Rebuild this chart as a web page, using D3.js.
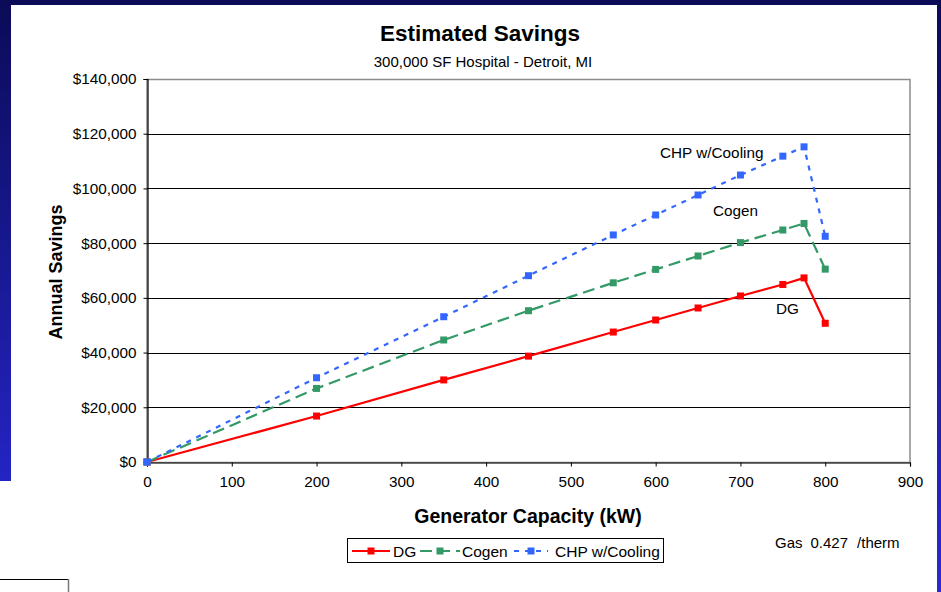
<!DOCTYPE html>
<html>
<head>
<meta charset="utf-8">
<script src="https://cdn.jsdelivr.net/npm/d3@7"></script>
<style>
  html, body { margin: 0; padding: 0; background: #fff; }
  svg { display: block; font-family: "Liberation Sans", Arial, sans-serif; }
</style>
</head>
<body>
<svg id="chart" width="941" height="592"></svg>
<script>
// Generator capacity (kW) for each estimate
const capacities = [0, 200, 350, 450, 550, 600, 650, 700, 750, 775, 800];
// Annual savings ($) per configuration
const dgSavings    = [0, 16800, 30000, 38700, 47500, 51900, 56300, 60700, 64900, 67300, 50700];
const cogenSavings = [0, 26900, 44600, 55300, 65500, 70400, 75300, 80200, 84800, 87200, 70500];
const chpSavings   = [0, 30800, 53100, 68100, 83000, 90300, 97600, 104900, 111800, 115200, 82500];
const seriesNames  = ["DG", "Cogen", "CHP w/Cooling"];
const yTickValues  = [0, 20000, 40000, 60000, 80000, 100000, 120000, 140000];
const xTickValues  = [0, 100, 200, 300, 400, 500, 600, 700, 800, 900];

const svg = d3.select("#chart");
const W = 941, H = 592;

// Slide background framing the chart
const defs = svg.append("defs");
const grad = defs.append("linearGradient").attr("id", "sideGrad")
  .attr("x1", 0).attr("y1", 0).attr("x2", 0).attr("y2", 1);
grad.append("stop").attr("offset", "0%").attr("stop-color", "#0b0b58");
grad.append("stop").attr("offset", "100%").attr("stop-color", "#2424c4");
const gradR = defs.append("linearGradient").attr("id", "sideGradR")
  .attr("x1", 0).attr("y1", 0).attr("x2", 0).attr("y2", 1);
gradR.append("stop").attr("offset", "0%").attr("stop-color", "#0b0b58");
gradR.append("stop").attr("offset", "100%").attr("stop-color", "#2a2ad0");

svg.append("rect").attr("x", 0).attr("y", 0).attr("width", W).attr("height", 5).attr("fill", "#0b0b58");
svg.append("rect").attr("x", 0).attr("y", 0).attr("width", 11).attr("height", 481).attr("fill", "url(#sideGrad)");
svg.append("rect").attr("x", 937).attr("y", 0).attr("width", 4).attr("height", H).attr("fill", "url(#sideGradR)");
// small table cell edge at the lower left
svg.append("line").attr("x1", 0).attr("x2", 68).attr("y1", 579.5).attr("y2", 579.5).attr("stroke", "#000").attr("stroke-width", 1);
svg.append("line").attr("x1", 68.5).attr("x2", 68.5).attr("y1", 579).attr("y2", 592).attr("stroke", "#777").attr("stroke-width", 1.5);

// Scales
const x = d3.scaleLinear().domain([0, 900]).range([147, 910]);
const y = d3.scaleLinear().domain([0, 140000]).range([462, 79]);

// Plot area border (top/right)
svg.append("rect").attr("x", 147).attr("y", 79.5).attr("width", 763).attr("height", 383)
  .attr("fill", "none").attr("stroke", "#8c8c8c").attr("stroke-width", 1.5);

// Gridlines
svg.append("g").selectAll("line").data(yTickValues.filter(v => v > 0 && v < 140000)).join("line")
  .attr("x1", 147).attr("x2", 910)
  .attr("y1", d => Math.round(y(d)) + 0.5).attr("y2", d => Math.round(y(d)) + 0.5)
  .attr("stroke", "#000").attr("stroke-width", 1);

// Axes
const fmt = d => "$" + d3.format(",")(d);
const yAxis = svg.append("g").attr("transform", "translate(147.5,0)")
  .call(d3.axisLeft(y).tickValues(yTickValues).tickFormat(fmt).tickSize(4).tickPadding(7));
const xAxis = svg.append("g").attr("transform", "translate(0,462.5)")
  .call(d3.axisBottom(x).tickValues(xTickValues).tickFormat(d3.format("d")).tickSize(4).tickPadding(10));
[yAxis, xAxis].forEach(g => {
  g.select(".domain").attr("stroke", "#000").attr("stroke-width", 1.2);
  g.selectAll(".tick line").attr("stroke", "#000");
  g.selectAll("text").attr("font-size", 15.3).attr("fill", "#000")
    .attr("font-family", "Liberation Sans, Arial, sans-serif");
});

// Series definitions
const series = [
  { name: seriesNames[0], values: dgSavings,    color: "#ff0000", dash: null },
  { name: seriesNames[1], values: cogenSavings, color: "#339966", dash: "12,6" },
  { name: seriesNames[2], values: chpSavings,   color: "#3366ff", dash: "5,6" }
];

const line = d3.line().x(d => x(d[0])).y(d => y(d[1]));

series.forEach(s => {
  const pts = capacities.map((c, i) => [c, s.values[i]]);
  svg.append("path").datum(pts)
    .attr("d", line).attr("fill", "none")
    .attr("stroke", s.color).attr("stroke-width", 2.2)
    .attr("stroke-dasharray", s.dash);
  svg.append("g").selectAll("rect").data(pts).join("rect")
    .attr("x", d => x(d[0]) - 3.5).attr("y", d => y(d[1]) - 3.5)
    .attr("width", 7).attr("height", 7).attr("fill", s.color);
});

// Series annotations inside the plot
svg.append("text").attr("x", 660).attr("y", 158).attr("font-size", 15.3).text("CHP w/Cooling");
svg.append("text").attr("x", 713).attr("y", 216).attr("font-size", 15.3).text("Cogen");
svg.append("text").attr("x", 776).attr("y", 314).attr("font-size", 15.3).text("DG");

// Titles
svg.append("text").attr("x", 480).attr("y", 41).attr("text-anchor", "middle")
  .attr("font-size", 22.5).attr("font-weight", "bold").text("Estimated Savings");
svg.append("text").attr("x", 483).attr("y", 67).attr("text-anchor", "middle")
  .attr("font-size", 15).text("300,000 SF Hospital - Detroit, MI");
svg.append("text").attr("x", 528).attr("y", 523).attr("text-anchor", "middle")
  .attr("font-size", 19.5).attr("font-weight", "bold").text("Generator Capacity (kW)");
svg.append("text").attr("transform", "translate(62,272) rotate(-90)").attr("text-anchor", "middle")
  .attr("font-size", 18).attr("font-weight", "bold").text("Annual Savings");

// Gas price note
const gas = svg.append("text").attr("x", 775).attr("y", 548).attr("font-size", 15);
gas.append("tspan").text("Gas");
gas.append("tspan").attr("dx", 8).text("0.427");
gas.append("tspan").attr("dx", 9).text("/therm");

// Legend
svg.append("rect").attr("x", 347.5).attr("y", 538.5).attr("width", 316).attr("height", 24)
  .attr("fill", "#fff").attr("stroke", "#000").attr("stroke-width", 1);
const legendItems = [
  { s: series[0], x1: 352, x2: 390, tx: 393 },
  { s: series[1], x1: 420, x2: 460, tx: 462 },
  { s: series[2], x1: 514, x2: 548, tx: 555 }
];
legendItems.forEach(it => {
  const ly = 551;
  svg.append("line").attr("x1", it.x1).attr("x2", it.x2).attr("y1", ly).attr("y2", ly)
    .attr("stroke", it.s.color).attr("stroke-width", 2.2)
    .attr("stroke-dasharray", it.s.dash);
  svg.append("rect").attr("x", (it.x1 + it.x2) / 2 - 3.5).attr("y", ly - 3.5)
    .attr("width", 7).attr("height", 7).attr("fill", it.s.color);
  svg.append("text").attr("x", it.tx).attr("y", ly + 5.5).attr("font-size", 15.5).text(it.s.name);
});
</script>
</body>
</html>
